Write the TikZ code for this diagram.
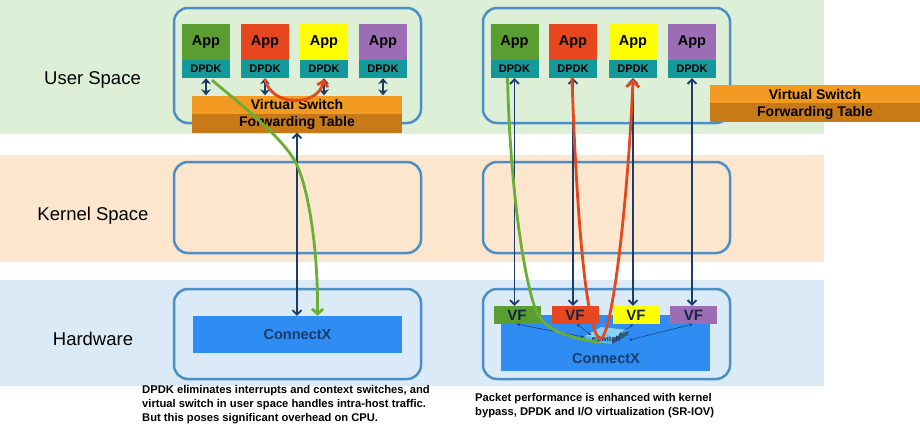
\documentclass[tikz,border=0pt]{standalone}
\usepackage{fontspec}
\setmainfont{Liberation Sans}
\usetikzlibrary{arrows.meta,calc}
\definecolor{bandU}{HTML}{DDEFD6}
\definecolor{bandK}{HTML}{FCE6CE}
\definecolor{bandH}{HTML}{DBEAF7}
\definecolor{boxline}{HTML}{4A8FC7}
\definecolor{appG}{HTML}{5A9E32}
\definecolor{appR}{HTML}{E6471F}
\definecolor{appY}{HTML}{FFFF00}
\definecolor{appP}{HTML}{9B6DB5}
\definecolor{dteal}{HTML}{14999A}
\definecolor{vsw}{HTML}{F29A21}
\definecolor{fwd}{HTML}{C77A17}
\definecolor{cx}{HTML}{2E8CF2}
\definecolor{navy}{HTML}{1A3B6C}
\definecolor{lgreen}{HTML}{6BAE36}
\definecolor{lred}{HTML}{E4481E}
\definecolor{esTop}{HTML}{8AD3F2}
\definecolor{esFront}{HTML}{5DB6E0}
\definecolor{esSide}{HTML}{2A5F7A}
\definecolor{vftext}{HTML}{13263F}
\tikzset{
  container/.style={draw=boxline,line width=2.5pt,rounded corners=14pt},
  bandlabel/.style={font=\fontsize{18.5}{20}\selectfont,anchor=base,inner sep=0pt},
  appbox/.style={minimum width=48pt,minimum height=36pt,inner sep=0pt,font=\fontsize{14.5}{16}\selectfont\bfseries},
  dpdkbox/.style={fill=dteal,minimum width=48pt,minimum height=18pt,inner sep=0pt,font=\fontsize{11}{12}\selectfont\bfseries},
  vswbar/.style={fill=vsw,minimum width=210pt,minimum height=18pt,inner sep=0pt,font=\fontsize{14}{16}\selectfont\bfseries},
  fwdbar/.style={fill=fwd,minimum width=210pt,minimum height=19pt,inner sep=0pt,font=\fontsize{14}{16}\selectfont\bfseries},
  cxbox/.style={fill=cx,minimum width=209pt,inner sep=0pt,text=navy,font=\fontsize{14.5}{16}\selectfont\bfseries},
  vfbox/.style={minimum width=47pt,minimum height=18pt,inner sep=0pt,text=vftext,font=\fontsize{15}{16}\selectfont\bfseries},
  dblarrow/.style={navy,line width=2.6pt,{Stealth[length=6pt,width=10pt,inset=2pt]}-{Stealth[length=6pt,width=10pt,inset=2pt]}},
  navyline/.style={navy,line width=1.8pt,{Straight Barb[length=4.5pt,width=9pt]}-{Straight Barb[length=4.5pt,width=9pt]}},
  greenpath/.style={lgreen,line width=2.8pt},
  redpath/.style={lred,line width=2.8pt},
  esarrow/.style={navy,line width=0.5pt,{Stealth[length=3pt,width=3pt]}-{Stealth[length=3pt,width=3pt]}},
  caption/.style={align=left,anchor=north west,inner sep=0pt,font=\fontsize{11.2}{13.7}\selectfont\bfseries}
}
\begin{document}
\begin{tikzpicture}[x=1pt,y=-1pt]
\useasboundingbox (0,0) rectangle (920,431);
\fill[white] (0,0) rectangle (920,431);
% bands
\fill[bandU] (0,0) rectangle (824,134);
\fill[bandK] (0,155) rectangle (824,262);
\fill[bandH] (0,280) rectangle (824,386);
\node[bandlabel] (lu) at (92.5,84) {User Space};
\node[bandlabel] (lk) at (93,220.5) {Kernel Space};
\node[bandlabel] (lh) at (93,345.5) {Hardware};
% containers
\draw[container] (174,8) rectangle (421,123);
\draw[container] (174,162) rectangle (421,253);
\draw[container] (174,289) rectangle (421,379);
\draw[container] (483,8) rectangle (730,123);
\draw[container] (483,162) rectangle (730,253);
\draw[container] (483,289) rectangle (730,379);
% left apps
\node[appbox,fill=appG] (aL1) at (206,42) {App};
\node[appbox,fill=appR] (aL2) at (265,42) {App};
\node[appbox,fill=appY] (aL3) at (324,42) {App};
\node[appbox,fill=appP] (aL4) at (383,42) {App};
\node[dpdkbox] (dL1) at (206,69) {DPDK};
\node[dpdkbox] (dL2) at (265,69) {DPDK};
\node[dpdkbox] (dL3) at (324,69) {DPDK};
\node[dpdkbox] (dL4) at (383,69) {DPDK};
% right apps
\node[appbox,fill=appG] (aR1) at (514.5,42) {App};
\node[appbox,fill=appR] (aR2) at (573,42) {App};
\node[appbox,fill=appY] (aR3) at (633,42) {App};
\node[appbox,fill=appP] (aR4) at (692,42) {App};
\node[dpdkbox] (dR1) at (514.5,69) {DPDK};
\node[dpdkbox] (dR2) at (573,69) {DPDK};
\node[dpdkbox] (dR3) at (633,69) {DPDK};
\node[dpdkbox] (dR4) at (692,69) {DPDK};
% virtual switches
\node[vswbar] (vsL) at (297,104.5) {Virtual Switch};
\node[fwdbar] (fwL) at (297,123) {Forwarding Table};
\node[vswbar] (vsR) at (815,94) {Virtual Switch};
\node[fwdbar] (fwR) at (815,112.5) {Forwarding Table};
% connectx
\node[cxbox,minimum height=37pt] (cxL) at (297.5,334.5) {ConnectX};
\node[cxbox,minimum height=56pt] (cxR) at (605.5,343) {};
\node[inner sep=0pt,text=navy,font=\fontsize{14.5}{16}\selectfont\bfseries] (cxRt) at (606,359) {ConnectX};
% VFs
\node[vfbox,fill=appG] (vf1) at (517,315) {VF};
\node[vfbox,fill=appR] (vf2) at (575,315) {VF};
\node[vfbox,fill=appY] (vf3) at (636,315) {VF};
\node[vfbox,fill=appP] (vf4) at (693.5,315) {VF};
% eSwitch
\fill[esFront] (585,336) -- (612,339) -- (612,344) -- (585,341) -- cycle;
\fill[esSide] (612,339) -- (628,330) -- (628,335) -- (612,344) -- cycle;
\fill[esTop] (585,336) -- (601,327) -- (628,330) -- (612,339) -- cycle;
\node[inner sep=0pt,minimum width=40pt,minimum height=12pt,text=navy,font=\fontsize{7.5}{8}\selectfont\bfseries] (es) at (606,339) {eSwitch};
\draw[esarrow] (vf1.south) -- ([xshift=-22pt,yshift=2pt]es.center);
\draw[esarrow] ([xshift=2pt]vf2.south) -- ([xshift=-15pt,yshift=4pt]es.center);
\draw[esarrow] ([xshift=-3pt]vf3.south) -- ([xshift=13pt,yshift=4pt]es.center);
\draw[esarrow] ([xshift=-1pt]vf4.south) -- ([xshift=23pt,yshift=-1pt]es.center);
% left arrows
\draw[dblarrow] (dL1.south) -- (dL1.south |- vsL.north);
\draw[dblarrow] (dL2.south) -- (dL2.south |- vsL.north);
\draw[dblarrow] (dL3.south) -- (dL3.south |- vsL.north);
\draw[dblarrow] (dL4.south) -- (dL4.south |- vsL.north);
\draw[redpath,-{Straight Barb[length=5pt,width=11pt]}] ([yshift=-1pt]dL2.south) .. controls (271,107) and (318,107) .. ([yshift=-1pt]dL3.south);
\draw[navyline] (fwL.south) -- (fwL.south |- cxL.north);
\draw[greenpath,-{Straight Barb[length=5pt,width=11pt]}] ([xshift=6pt,yshift=-2pt]dL1.south) .. controls (248,110) and (284,140) .. (296,163) .. controls (309,190) and (318,250) .. ([xshift=20pt]cxL.north);
% right arrows
\draw[navyline] (dR1.south) -- (dR1.south |- vf1.north);
\draw[navyline] (dR2.south) -- (dR2.south |- vf2.north);
\draw[navyline] (dR3.south) -- (dR3.south |- vf3.north);
\draw[navyline] (dR4.south) -- (dR4.south |- vf4.north);
\draw[greenpath] ([xshift=-7pt]dR1.south) .. controls (510,180) and (522,270) .. (535,308) .. controls (545,336) and (580,338) .. ([xshift=-6pt,yshift=-4pt]es.center);
\draw[redpath,-{Straight Barb[length=6pt,width=13pt]}] ([xshift=-1pt]dR2.south) .. controls (576,200) and (585,330) .. ([xshift=-6pt,yshift=0pt]es.center) .. controls (612,340) and (628,200) .. ([yshift=-1pt]dR3.south);
% captions
\node[caption] (capL) at (142,385.5) {DPDK eliminates interrupts and context switches, and\\virtual switch in user space handles intra-host traffic.\\But this poses significant overhead on CPU.};
\node[caption] (capR) at (475,393.3) {Packet performance is enhanced with kernel\\bypass, DPDK and I/O virtualization (SR-IOV)};
\end{tikzpicture}
\end{document}
